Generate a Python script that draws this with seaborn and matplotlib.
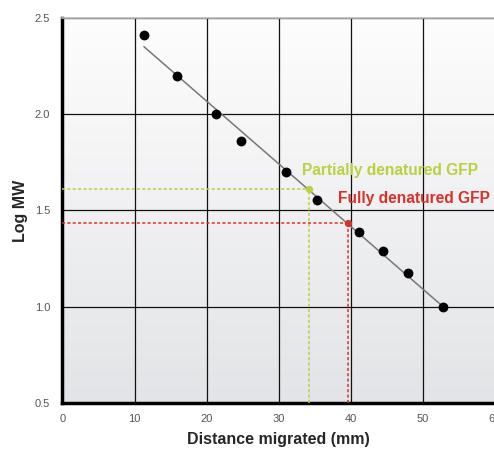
import numpy as np
import pandas as pd
import matplotlib
matplotlib.use("Agg")
import matplotlib.pyplot as plt
import seaborn as sns

distance = [11.3, 15.9, 21.3, 24.8, 31.0, 35.3, 41.2, 44.5, 48.0, 52.8]
log_mw = [2.41, 2.20, 2.00, 1.86, 1.70, 1.555, 1.39, 1.29, 1.175, 1.00]
samples = ["Partially denatured GFP", "Fully denatured GFP"]
sample_x = [34.2, 39.6]
sample_y = [1.61, 1.435]
sample_colors = ["#bccf3e", "#d9312b"]
x_ticks = [0, 10, 20, 30, 40, 50, 60]
y_ticks = [0.5, 1.0, 1.5, 2.0, 2.5]

sns.set_theme(style="white")
plt.rcParams["font.family"] = ["Liberation Sans", "DejaVu Sans"]

fig = plt.figure(figsize=(4.94, 4.49), dpi=100)
ax = fig.add_axes([0.1265, 0.1024, 0.875, 0.8576])

# gradient background
grad = np.linspace(0, 1, 256).reshape(-1, 1)
cmap = matplotlib.colors.LinearSegmentedColormap.from_list("bg", ["#fdfdfd", "#e3e4e7"])
ax.imshow(grad, cmap=cmap, aspect="auto", extent=[0, 1, 0, 1], origin="upper",
          transform=ax.transAxes, zorder=0)

ax.set_xlim(0, 60)
ax.set_ylim(0.5, 2.5)
ax.set_xticks(x_ticks)
ax.set_yticks(y_ticks)
ax.set_yticklabels([f"{v:.1f}" for v in y_ticks])
ax.grid(True, color="#111111", linewidth=0.9)
ax.set_axisbelow(True)

df = pd.DataFrame({"distance": distance, "log_mw": log_mw})
sns.regplot(data=df, x="distance", y="log_mw", ci=None, ax=ax,
            scatter_kws=dict(s=50, color="black", alpha=1, zorder=4, linewidths=0),
            line_kws=dict(color="#777777", linewidth=1.1, zorder=3))

for name, sx, sy, c in zip(samples, sample_x, sample_y, sample_colors):
    ax.plot([0, sx], [sy, sy], linestyle=(0, (2, 1.5)), color=c, linewidth=1.1, zorder=3)
    ax.plot([sx, sx], [0.5, sy], linestyle=(0, (2, 1.5)), color=c, linewidth=1.1, zorder=3)
    ax.scatter([sx], [sy], s=18, color=c, zorder=5)

ax.text(33.3, 1.71, samples[0], color=sample_colors[0], fontsize=11.2,
        fontweight="bold", va="center", ha="left", zorder=6)
ax.text(38.2, 1.56, samples[1], color=sample_colors[1], fontsize=11.2,
        fontweight="bold", va="center", ha="left", zorder=6)

for s in ["left", "bottom"]:
    ax.spines[s].set_color("black")
    ax.spines[s].set_linewidth(2.5)
ax.spines["top"].set_color("#bbbbbb")
ax.spines["top"].set_linewidth(1.2)
ax.spines["right"].set_visible(False)

ax.tick_params(axis="y", labelsize=8, labelcolor="#555555", length=0, pad=9)
ax.tick_params(axis="x", labelsize=8, labelcolor="#555555", length=0, pad=8)
ax.set_xlabel("Distance migrated (mm)", fontsize=11.5, fontweight="bold", labelpad=6)
ax.set_ylabel("Log MW", fontsize=11.5, fontweight="bold", labelpad=5)

fig.savefig("out.png", dpi=100)
